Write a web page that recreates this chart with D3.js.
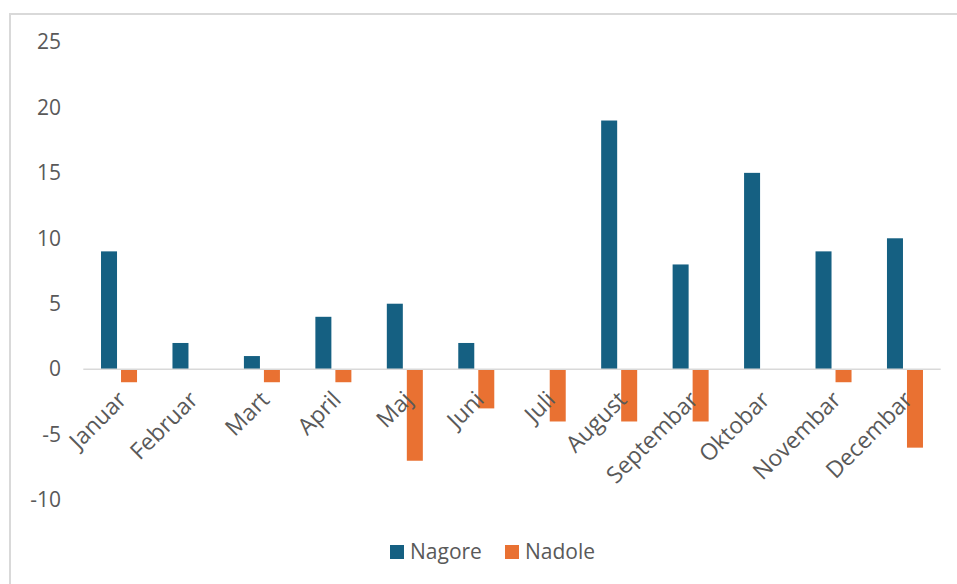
<!DOCTYPE html>
<html>
<head>
<meta charset="utf-8">
<script src="https://cdn.jsdelivr.net/npm/d3@7"></script>
<style>
  html, body { margin: 0; padding: 0; background: #fff; }
  svg { display: block; }
  text { font-family: "Open Sans", "Noto Sans", sans-serif; fill: #595959; }
</style>
</head>
<body>
<svg id="chart" width="957" height="584"></svg>
<script>
const categories = ["Januar","Februar","Mart","April","Maj","Juni","Juli","August","Septembar","Oktobar","Novembar","Decembar"];
const seriesNames = ["Nagore","Nadole"];
const nagore = [9,2,1,4,5,2,0,19,8,15,9,10];
const nadole = [-1,0,-1,-1,-7,-3,-4,-4,-4,0,-1,-6];
const yTicks = [-10,-5,0,5,10,15,20,25];
const colors = ["#156082","#E97132"];

const svg = d3.select("#chart");
const W = 957, H = 584;

// outer border
svg.append("rect").attr("x",10).attr("y",14).attr("width",W+20).attr("height",H+20)
  .attr("fill","none").attr("stroke","#d9d9d9").attr("stroke-width",2);

const left = 83.3, right = 940.7;
const x0 = d3.scaleBand().domain(categories).range([left,right]).paddingInner(0.496).paddingOuter(0.248);
const x1 = d3.scaleBand().domain(seriesNames).range([0,x0.bandwidth()]).paddingInner(0.2).paddingOuter(0);
const y = d3.scaleLinear().domain([-10,25]).range([500,42]);

// y labels
const yAxis = d3.axisLeft(y).tickValues(yTicks).tickSize(0).tickPadding(0).tickFormat(d=>String(d));
const yg = svg.append("g").attr("transform","translate(61,0)").call(yAxis);
yg.select(".domain").remove();
yg.selectAll("text").style("font-size","21px");

const values = [nagore, nadole];
const data = categories.map((c,i)=>({cat:c, vals: seriesNames.map((s,j)=>({s, j, v: values[j][i]}))}));

const groups = svg.append("g").selectAll("g").data(data).join("g")
  .attr("transform",d=>`translate(${x0(d.cat)},0)`);
groups.selectAll("rect").data(d=>d.vals.filter(v=>v.v!==0)).join("rect")
  .attr("x",d=>x1(d.s)).attr("width",x1.bandwidth())
  .attr("y",d=>Math.min(y(d.v),y(0)))
  .attr("height",d=>Math.abs(y(d.v)-y(0)))
  .attr("fill",d=>colors[d.j]);

// zero line
svg.append("line").attr("x1",left).attr("x2",right).attr("y1",y(0)).attr("y2",y(0))
  .attr("stroke","#d9d9d9").attr("stroke-width",1.5);

// category labels
const xAxis = d3.axisBottom(x0).tickSize(0).tickPadding(0);
const xg = svg.append("g").attr("transform",`translate(0,${y(0)})`).call(xAxis);
xg.select(".domain").remove();
xg.selectAll("text")
  .style("font-size","23px")
  .attr("text-anchor","end")
  .attr("dy","0")
  .attr("y",0).attr("x",0)
  .attr("transform","translate(9,32) rotate(-45)");

// legend
const legend = svg.append("g");
const legendX = [390, 505];
seriesNames.forEach((s,i)=>{
  legend.append("rect").attr("x",legendX[i]).attr("y",545).attr("width",14).attr("height",14).attr("fill",colors[i]);
  legend.append("text").attr("x",legendX[i]+20).attr("y",559).style("font-size","21px").text(s);
});
</script>
</body>
</html>
